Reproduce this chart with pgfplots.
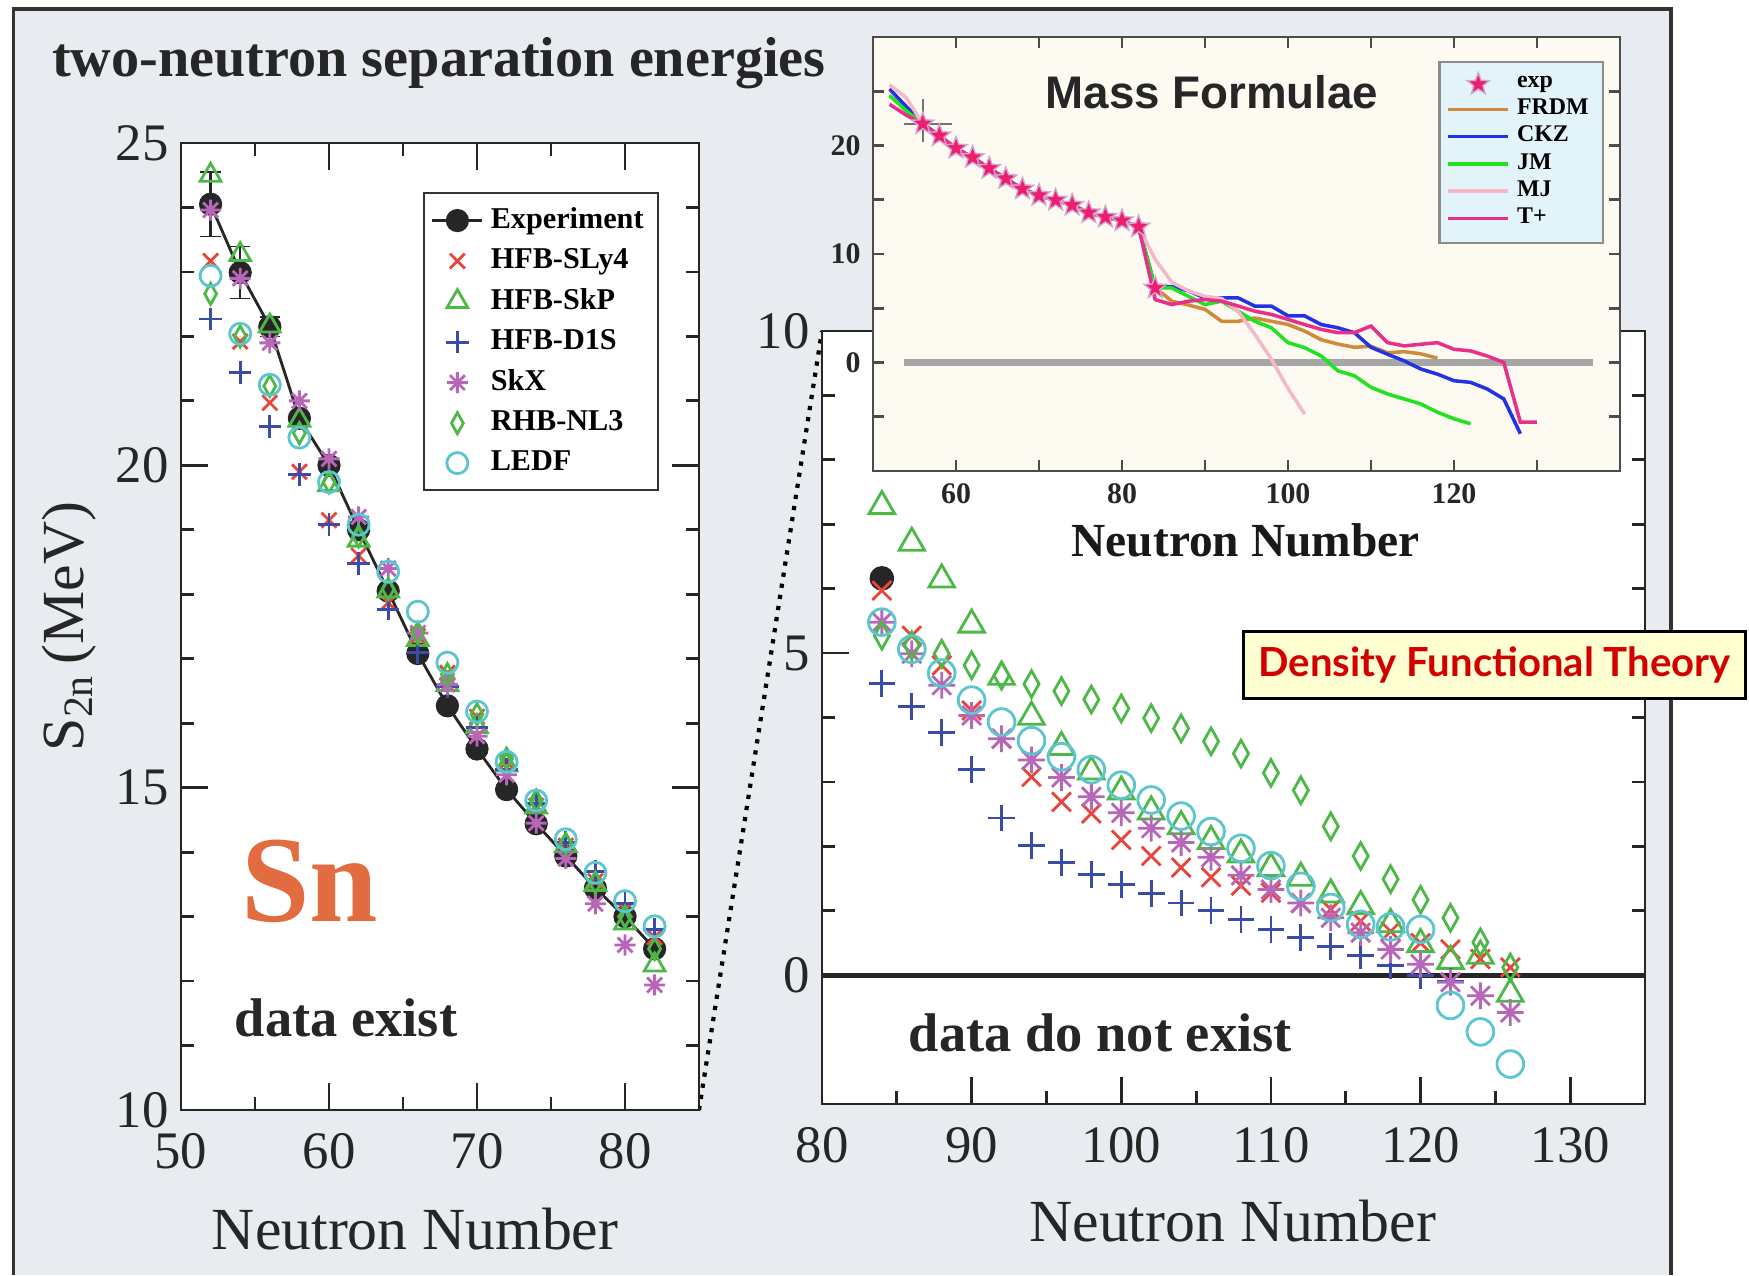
\documentclass[border=0pt]{standalone}
\usepackage{pgfplots}
\pgfplotsset{compat=1.18}
\usepackage{fontspec}
\setmainfont{Liberation Serif}
\newfontfamily\hsans{Liberation Sans}
\newfontfamily\comic{Lato}
\usetikzlibrary{plotmarks}

\definecolor{bgc}{HTML}{E8EBF0}
\definecolor{framec}{HTML}{333333}
\definecolor{cred}{HTML}{E8463C}
\definecolor{cgreen}{HTML}{4DB848}
\definecolor{cblue}{HTML}{3A4BA8}
\definecolor{cmag}{HTML}{B866B8}
\definecolor{ccyan}{HTML}{5CC6CF}
\definecolor{snc}{HTML}{E26B3F}
\definecolor{cream}{HTML}{FDFAF2}
\definecolor{legbg}{HTML}{E3F3FA}
\definecolor{frdm}{HTML}{D08A3C}
\definecolor{ckz}{HTML}{2233E6}
\definecolor{jm}{HTML}{22E022}
\definecolor{mj}{HTML}{F6B8C8}
\definecolor{tplus}{HTML}{E8308A}
\definecolor{starc}{HTML}{EE1E6E}
\definecolor{dftbg}{HTML}{FFFFD2}
\definecolor{dftred}{HTML}{D40000}

\pgfdeclareplotmark{ast8}{%
  \pgfpathmoveto{\pgfqpoint{-\pgfplotmarksize}{0pt}}\pgfpathlineto{\pgfqpoint{\pgfplotmarksize}{0pt}}%
  \pgfpathmoveto{\pgfqpoint{0pt}{-\pgfplotmarksize}}\pgfpathlineto{\pgfqpoint{0pt}{\pgfplotmarksize}}%
  \pgfpathmoveto{\pgfqpoint{-0.707\pgfplotmarksize}{-0.707\pgfplotmarksize}}\pgfpathlineto{\pgfqpoint{0.707\pgfplotmarksize}{0.707\pgfplotmarksize}}%
  \pgfpathmoveto{\pgfqpoint{-0.707\pgfplotmarksize}{0.707\pgfplotmarksize}}\pgfpathlineto{\pgfqpoint{0.707\pgfplotmarksize}{-0.707\pgfplotmarksize}}%
  \pgfusepathqstroke}

\pgfdeclareplotmark{fstar}{%
  \pgfpathmoveto{\pgfpointpolar{90}{\pgfplotmarksize}}%
  \pgfpathlineto{\pgfpointpolar{126}{0.42\pgfplotmarksize}}%
  \pgfpathlineto{\pgfpointpolar{162}{\pgfplotmarksize}}%
  \pgfpathlineto{\pgfpointpolar{198}{0.42\pgfplotmarksize}}%
  \pgfpathlineto{\pgfpointpolar{234}{\pgfplotmarksize}}%
  \pgfpathlineto{\pgfpointpolar{270}{0.42\pgfplotmarksize}}%
  \pgfpathlineto{\pgfpointpolar{306}{\pgfplotmarksize}}%
  \pgfpathlineto{\pgfpointpolar{342}{0.42\pgfplotmarksize}}%
  \pgfpathlineto{\pgfpointpolar{18}{\pgfplotmarksize}}%
  \pgfpathlineto{\pgfpointpolar{54}{0.42\pgfplotmarksize}}%
  \pgfpathclose
  \pgfusepathqfillstroke}

\pgfplotsset{
  sly4/.style={only marks, mark=x, mark size=3.0pt, cred, line width=0.8pt},
  skp/.style={only marks, mark=triangle, mark size=3.4pt, cgreen, line width=0.8pt},
  d1s/.style={only marks, mark=+, mark size=3.2pt, cblue, line width=0.8pt},
  skx/.style={only marks, mark=ast8, mark size=3.0pt, cmag, line width=0.8pt},
  nl3/.style={only marks, mark=diamond, mark size=3.0pt, mark options={xscale=0.75}, cgreen, line width=0.8pt},
  ledf/.style={only marks, mark=o, mark size=3.0pt, ccyan, line width=0.8pt},
}

\begin{document}
\begin{tikzpicture}[x=1cm,y=1cm]
\path[use as bounding box] (0,0) rectangle (17.49,12.75);
\fill[white] (0,0) rectangle (17.49,12.75);
\fill[bgc] (0.134,0) rectangle (16.71,12.661);
\draw[framec, line width=1pt] (0.134,0) -- (0.134,12.661) -- (16.71,12.661) -- (16.71,0);

\node[font=\bfseries\fontsize{16}{19}\selectfont, text=black!85] at (4.39,12.12) {two-neutron separation energies};

% dotted connector
\draw[black, line width=1.2pt, dotted] (6.99,1.65) -- (8.22,9.44);

% ---------------- left panel ----------------
\begin{axis}[
  at={(1.81cm,1.65cm)}, anchor=south west, scale only axis,
  width=5.18cm, height=9.67cm,
  xmin=50, xmax=85, ymin=10, ymax=25,
  axis background/.style={fill=white},
  axis line style={black!85, line width=0.8pt},
  tick align=inside, tick style={black!85, line width=0.8pt},
  major tick length=0.27cm, minor tick length=0.13cm,
  xtick={50,60,70,80}, minor x tick num=1,
  ytick={10,15,20,25}, minor y tick num=4,
  /pgf/number format/assume math mode=true,
  ticklabel style={font=\fontsize{15}{17}\selectfont, text=black!85},
  xticklabel style={yshift=-3pt},
  xlabel={Neutron Number},
  ylabel={S$_{\mathrm{2n}}$\,(MeV)},
  xlabel style={font=\fontsize{17}{20}\selectfont, text=black!85, at={(axis description cs:0.452,-0.123)}, anchor=center},
  ylabel style={font=\fontsize{17}{20}\selectfont, text=black!85, at={(axis description cs:-0.216,0.5)}, anchor=center},
  legend cell align=left,
  legend style={at={(0.467,0.949)}, anchor=north west, fill=white, draw=black!80, line width=0.6pt,
     font=\bfseries\fontsize{8.6}{10}\selectfont, row sep=0.2pt, inner sep=2pt},
  legend image code/.code={\draw[mark repeat=2,mark phase=2] plot coordinates {(0cm,0cm) (0.25cm,0cm) (0.5cm,0cm)};},
  clip=false,
]
\addplot[black!85, line width=0.8pt, mark=*, mark size=2.9pt, mark options={fill=black!85},
  error bars/.cd, y dir=both, y explicit, error bar style={line width=0.7pt}] coordinates {
 (52,24.05) +- (0,0.5) (54,22.99) +- (0,0.4) (56,22.15) +- (0,0.15) (58,20.73) +- (0,0) (60,20.0) +- (0,0)
 (62,19.0) +- (0,0) (64,18.05) +- (0,0) (66,17.08) +- (0,0) (68,16.27) +- (0,0) (70,15.6) +- (0,0)
 (72,14.97) +- (0,0) (74,14.44) +- (0,0) (76,13.94) +- (0,0) (78,13.44) +- (0,0) (80,13.0) +- (0,0) (82,12.5) +- (0,0)};
\addlegendentry{Experiment}
\addplot[sly4] coordinates {(52,23.17) (54,21.92) (56,20.97) (58,19.9) (60,19.15) (62,18.6) (64,17.87) (66,17.35) (68,16.78) (70,16.1) (72,15.4) (74,14.72) (76,14.1) (78,13.55) (80,13.1) (82,12.68)};
\addlegendentry{HFB-SLy4}
\addplot[skp] coordinates {(52,24.5) (54,23.27) (56,22.16) (58,20.7) (60,19.7) (62,18.84) (64,18.05) (66,17.3) (68,16.6) (70,15.95) (72,15.35) (74,14.7) (76,14.1) (78,13.5) (80,12.9) (82,12.25)};
\addlegendentry{HFB-SkP}
\addplot[d1s] coordinates {(52,22.27) (54,21.44) (56,20.6) (58,19.86) (60,19.08) (62,18.48) (64,17.77) (66,17.1) (68,16.57) (70,15.93) (72,15.28) (74,14.76) (76,14.15) (78,13.7) (80,13.2) (82,12.8)};
\addlegendentry{HFB-D1S}
\addplot[skx] coordinates {(52,23.96) (54,22.9) (56,21.9) (58,21.0) (60,20.1) (62,19.2) (64,18.4) (66,17.4) (68,16.6) (70,15.8) (72,15.2) (74,14.45) (76,13.9) (78,13.2) (80,12.56) (82,11.94)};
\addlegendentry{SkX}
\addplot[nl3] coordinates {(52,22.66) (54,22.0) (56,21.23) (58,20.5) (60,19.74) (62,18.9) (64,18.08) (66,17.4) (68,16.76) (70,16.14) (72,15.45) (74,14.8) (76,14.13) (78,13.53) (80,13.0) (82,12.5)};
\addlegendentry{RHB-NL3}
\addplot[ledf] coordinates {(52,22.94) (54,22.04) (56,21.25) (58,20.43) (60,19.74) (62,19.08) (64,18.35) (66,17.73) (68,16.94) (70,16.18) (72,15.4) (74,14.8) (76,14.2) (78,13.68) (80,13.24) (82,12.85)};
\addlegendentry{LEDF}
\node[font=\bfseries\fontsize{35}{40}\selectfont, text=snc] at (axis cs:58.7,13.55) {Sn};
\node[font=\bfseries\fontsize{15.5}{18}\selectfont, text=black!85] at (axis cs:61.15,11.43) {data exist};
\end{axis}

% ---------------- right panel ----------------
\begin{axis}[
  at={(8.22cm,1.71cm)}, anchor=south west, scale only axis,
  width=8.23cm, height=7.73cm,
  xmin=80, xmax=135, ymin=-2, ymax=10,
  axis background/.style={fill=white},
  axis line style={black!85, line width=0.8pt},
  tick align=inside, tick style={black!85, line width=0.8pt},
  major tick length=0.27cm, minor tick length=0.13cm,
  xtick={80,90,100,110,120,130}, minor x tick num=1,
  ytick={0,5,10}, minor y tick num=4,
  /pgf/number format/assume math mode=true,
  ticklabel style={font=\fontsize{15}{17}\selectfont, text=black!85},
  xticklabel style={yshift=-3pt},
  xlabel={Neutron Number},
  xlabel style={font=\fontsize{17}{20}\selectfont, text=black!85, at={(axis description cs:0.499,-0.151)}, anchor=center},
  clip=false,
]
\addplot[black!85, line width=1.4pt, no marks] coordinates {(80,0) (135,0)};
\addplot[only marks, mark=*, mark size=3.3pt, black!85] coordinates {(84,6.16)};
\addplot[sly4, mark size=3.8pt] coordinates {(84,5.97) (86,5.27) (88,4.81) (90,4.11) (92,3.67) (94,3.08) (96,2.69) (98,2.51) (100,2.10) (102,1.85) (104,1.67) (106,1.52) (108,1.39) (110,1.28) (112,1.12) (114,1.02) (116,0.84) (118,0.68) (120,0.50) (122,0.40) (124,0.25) (126,0.12)};
\addplot[skp, mark size=4.2pt] coordinates {(84,7.28) (86,6.71) (88,6.14) (90,5.44) (92,4.63) (94,4.01) (96,3.54) (98,3.16) (100,2.85) (102,2.54) (104,2.31) (106,2.08) (108,1.87) (110,1.66) (112,1.51) (114,1.25) (116,1.07) (118,0.79) (120,0.48) (122,0.22) (124,0.30) (126,-0.29)};
\addplot[d1s, mark size=3.8pt] coordinates {(84,4.53) (86,4.17) (88,3.77) (90,3.19) (92,2.44) (94,2.01) (96,1.75) (98,1.56) (100,1.41) (102,1.27) (104,1.12) (106,1.00) (108,0.86) (110,0.71) (112,0.58) (114,0.45) (116,0.30) (118,0.15) (120,-0.01) (122,-0.10)};
\addplot[skx, mark size=3.8pt] coordinates {(84,5.48) (86,4.99) (88,4.50) (90,4.03) (92,3.67) (94,3.34) (96,3.07) (98,2.77) (100,2.52) (102,2.28) (104,2.06) (106,1.83) (108,1.55) (110,1.33) (112,1.12) (114,0.89) (116,0.66) (118,0.40) (120,0.17) (122,-0.11) (124,-0.32) (126,-0.58)};
\addplot[nl3, mark size=3.8pt] coordinates {(84,5.27) (86,5.12) (88,4.99) (90,4.81) (92,4.65) (94,4.52) (96,4.41) (98,4.28) (100,4.14) (102,3.99) (104,3.83) (106,3.63) (108,3.44) (110,3.14) (112,2.87) (114,2.31) (116,1.85) (118,1.49) (120,1.17) (122,0.89) (124,0.51) (126,0.12)};
\addplot[ledf, mark size=3.8pt] coordinates {(84,5.48) (86,5.06) (88,4.69) (90,4.27) (92,3.93) (94,3.64) (96,3.39) (98,3.19) (100,2.95) (102,2.72) (104,2.47) (106,2.23) (108,1.97) (110,1.70) (112,1.38) (114,1.05) (116,0.79) (118,0.75) (120,0.71) (122,-0.47) (124,-0.88) (126,-1.38)};
\node[font=\bfseries\fontsize{15.5}{18}\selectfont, text=black!85] at (axis cs:98.6,-0.9) {data do not exist};
\end{axis}

% ---------------- inset: mass formulae ----------------
\begin{axis}[
  at={(8.73cm,8.04cm)}, anchor=south west, scale only axis,
  width=7.47cm, height=4.34cm,
  xmin=50, xmax=140, ymin=-10, ymax=30,
  axis background/.style={fill=cream},
  axis line style={black!70, line width=0.8pt},
  tick align=inside, tick style={black!70, line width=0.8pt},
  major tick length=0.11cm, minor tick length=0.11cm,
  xtick={60,80,100,120}, minor xtick={70,90,110,130},
  ytick={0,10,20}, minor ytick={-5,5,15,25},
  /pgf/number format/assume math mode=true,
  ticklabel style={font=\bfseries\fontsize{8.5}{10}\selectfont, text=black!85},
  xlabel={Neutron Number},
  xlabel style={font=\bfseries\fontsize{13.5}{16}\selectfont, text=black!90, at={(axis description cs:0.499,-0.159)}, anchor=center},
  legend cell align=left,
  legend style={at={(0.757,0.945)}, anchor=north west, fill=legbg, draw=black!45, line width=0.6pt,
     font=\bfseries\fontsize{6.8}{7.5}\selectfont, row sep=-2.2pt, inner sep=2pt},
  legend image post style={line width=1pt},
]
\addplot[black!35, line width=2.2pt, no marks, forget plot] coordinates {(53.7,0) (136.7,0)};
\addplot[black!55, line width=0.5pt, no marks, forget plot] coordinates {(56,20.3) (56,24.3)};
\addplot[black!55, line width=0.5pt, no marks, forget plot] coordinates {(53.7,22) (59.5,22)};
\addplot[only marks, mark=fstar, mark size=3.3pt, mark options={fill=starc, draw=violet!35, line width=0.4pt}] coordinates {
 (56,22.0) (58,20.9) (60,19.75) (62,18.9) (64,17.9) (66,16.95) (68,16.0) (70,15.4) (72,14.96) (74,14.5) (76,13.8) (78,13.4) (80,13.07) (82,12.5) (84,6.87)};
\addlegendentry{exp}
\addplot[frdm, line width=1pt, no marks] coordinates {(52,24.6) (54,23.3) (56,22.0) (58,20.9) (60,19.75) (62,18.9) (64,17.9) (66,16.95) (68,16.0) (70,15.4) (72,14.96) (74,14.5) (76,13.8) (78,13.4) (80,13.07) (82,12.5)
 (84,6.9) (86,5.65) (88,5.3) (90,4.9) (92,3.8) (94,3.8) (96,4.1) (98,3.8) (100,3.5) (102,2.9) (104,2.1) (106,1.7) (108,1.4) (110,1.5) (112,0.9) (114,1.0) (116,0.8) (118,0.4)};
\addlegendentry{FRDM}
\addplot[ckz, line width=1pt, no marks] coordinates {(52,25.2) (54,23.6) (56,22.0) (58,20.9) (60,19.75) (62,18.9) (64,17.9) (66,16.95) (68,16.0) (70,15.4) (72,14.96) (74,14.5) (76,13.8) (78,13.4) (80,13.07) (82,12.5)
 (84,6.9) (86,7.0) (88,6.6) (90,5.95) (92,5.95) (94,5.95) (96,5.2) (98,5.2) (100,4.3) (102,4.3) (104,3.5) (106,3.2) (108,2.75) (110,1.4) (112,0.76) (114,0.15) (116,-0.6) (118,-1.07) (120,-1.68) (122,-1.83) (124,-2.44) (126,-3.36) (128,-6.56)};
\addlegendentry{CKZ}
\addplot[jm, line width=1pt, no marks] coordinates {(52,24.6) (54,23.2) (56,22.0) (58,20.9) (60,19.75) (62,18.9) (64,17.9) (66,16.95) (68,16.0) (70,15.4) (72,14.96) (74,14.5) (76,13.8) (78,13.4) (80,13.07) (82,12.5)
 (84,6.9) (86,6.87) (88,6.1) (90,5.34) (92,5.65) (94,4.73) (96,3.8) (98,3.2) (100,1.83) (102,1.37) (104,0.6) (106,-0.76) (108,-1.22) (110,-2.29) (112,-2.9) (114,-3.36) (116,-3.82) (118,-4.58) (120,-5.19) (122,-5.65)};
\addlegendentry{JM}
\addplot[mj, line width=1pt, no marks] coordinates {(52,25.6) (54,24.4) (56,22.0) (58,20.9) (60,19.75) (62,18.9) (64,17.9) (66,16.95) (68,16.0) (70,15.4) (72,14.96) (74,14.5) (76,13.8) (78,13.4) (80,13.07) (82,12.5)
 (84,9.5) (86,7.4) (88,6.6) (90,6.1) (92,5.9) (94,4.7) (96,2.6) (98,0.3) (100,-2.4) (102,-4.75)};
\addlegendentry{MJ}
\addplot[tplus, line width=1pt, no marks] coordinates {(52,23.8) (54,22.8) (56,22.0) (58,20.9) (60,19.75) (62,18.9) (64,17.9) (66,16.95) (68,16.0) (70,15.4) (72,14.96) (74,14.5) (76,13.8) (78,13.4) (80,13.07) (82,12.5)
 (84,5.8) (86,5.34) (88,5.65) (90,5.8) (92,5.65) (94,5.2) (96,4.73) (98,4.43) (100,3.97) (102,3.5) (104,3.05) (106,2.75) (108,2.75) (110,3.36) (112,1.83) (114,1.53) (116,1.68) (118,1.83) (120,1.22) (122,1.07) (124,0.6) (126,0.0) (128,-5.5) (130,-5.5)};
\addlegendentry{T+}
\node[font=\hsans\bfseries\fontsize{13}{15}\selectfont, text=black!85] at (axis description cs:0.454,0.874) {Mass Formulae};
\end{axis}

% DFT label box
\node[draw=black, line width=0.8pt, fill=dftbg, minimum width=5.02cm, minimum height=0.67cm, inner sep=0pt,
  font=\comic\bfseries\fontsize{11.4}{13}\selectfont, text=dftred] at (14.946,6.103) {Density Functional Theory};
\end{tikzpicture}
\end{document}
